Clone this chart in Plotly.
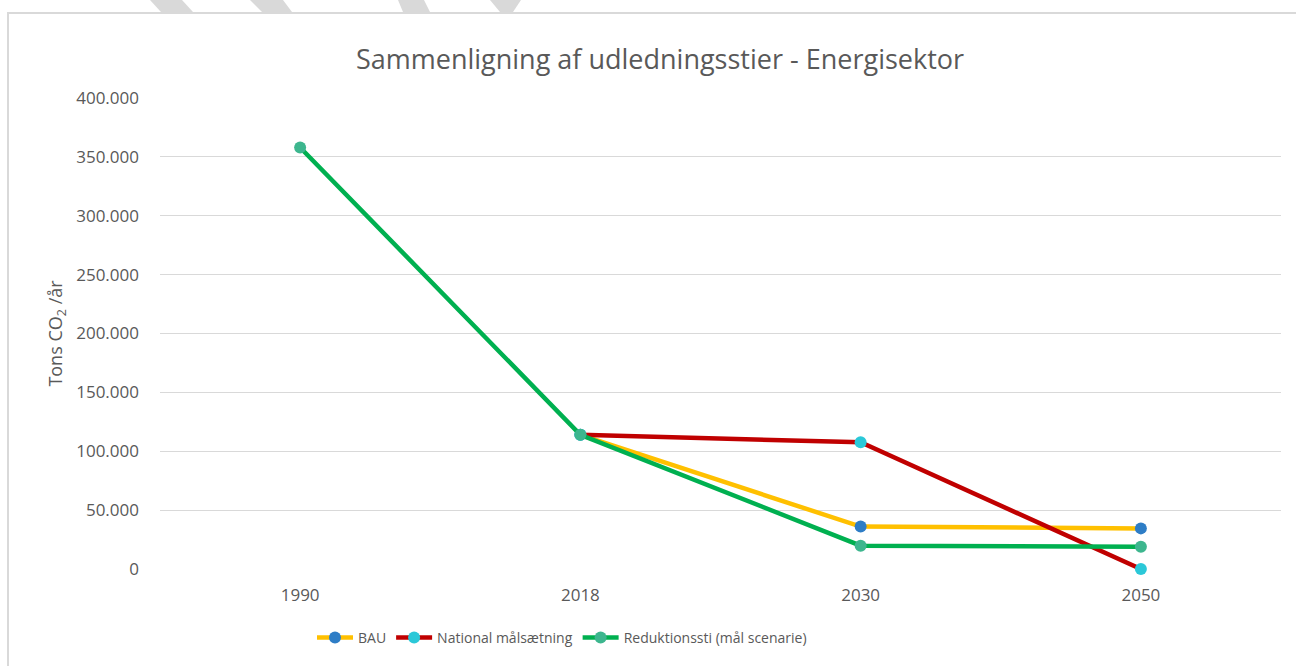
import plotly.graph_objects as go

years = ["1990", "2018", "2030", "2050"]
bau = [None, 114000, 36000, 34500]
national = [None, 114000, 107600, 0]
reduktion = [358000, 114000, 19800, 18900]
y_ticks = [0, 50000, 100000, 150000, 200000, 250000, 300000, 350000, 400000]
y_tick_labels = ["0", "50.000", "100.000", "150.000", "200.000", "250.000", "300.000", "350.000", "400.000"]

W, H = 1296, 666
L, R, T, B = 160, 1281, 98, 569  # plot area in px


def px(x):
    return (x - L) / (R - L)


def py(y):
    return (B - y) / (B - T)


FONT = "Open Sans"
GREY = "#595959"

fig = go.Figure()
fig.add_trace(go.Scatter(
    x=years, y=bau, name="BAU", mode="lines+markers", cliponaxis=False,
    line=dict(color="#FFC000", width=4.5),
    marker=dict(color="#2E7DC6", size=12),
))
fig.add_trace(go.Scatter(
    x=years, y=national, name="National målsætning", mode="lines+markers", cliponaxis=False,
    line=dict(color="#C00000", width=4.5),
    marker=dict(color="#2BC8D8", size=12),
))
fig.add_trace(go.Scatter(
    x=years, y=reduktion, name="Reduktionssti (mål scenarie)", mode="lines+markers", cliponaxis=False,
    line=dict(color="#00B050", width=4.5),
    marker=dict(color="#3DB68E", size=12),
))

shapes = []
# chart border
shapes.append(dict(type="rect", xref="paper", yref="paper",
                   x0=px(8), x1=px(1310), y0=py(700), y1=py(13),
                   line=dict(color="#D9D9D9", width=2), fillcolor="rgba(0,0,0,0)", layer="below"))
# grey diagonal stripes at top
stripes = [
    [(150, 0), (182, 0), (193, 12), (161, 12)],
    [(250, 0), (283, 0), (292, 12), (262, 12)],
    [(398, 0), (424, 0), (430, 12), (403, 12)],
    [(490, 0), (521, 0), (513, 12), (500, 12)],
]
for s in stripes:
    path = "M " + " L ".join(f"{px(a):.5f},{py(b):.5f}" for a, b in s) + " Z"
    shapes.append(dict(type="path", xref="paper", yref="paper", path=path,
                       fillcolor="#D9D9D9", line=dict(width=0)))

fig.update_layout(
    width=W, height=H,
    margin=dict(l=L, r=W - R, t=T, b=H - B),
    paper_bgcolor="white", plot_bgcolor="white",
    font=dict(family=FONT, color=GREY, size=15),
    title=dict(text="Sammenligning af udledningsstier - Energisektor",
               x=660 / W, xanchor="center", y=1 - 60 / H, yanchor="middle",
               font=dict(family=FONT, size=27, color=GREY)),
    showlegend=True,
    legend=dict(orientation="h", x=px(562), xanchor="center", y=py(638), yanchor="middle",
                font=dict(family=FONT, size=14, color=GREY), itemwidth=36,
                traceorder="normal"),
    shapes=shapes,
    xaxis=dict(type="category", range=[-0.5, 3.5], showgrid=False, showline=False,
               zeroline=False, ticks="", tickfont=dict(size=17, color=GREY),
               ticklabelstandoff=14, fixedrange=True),
    yaxis=dict(range=[0, 400000], tickvals=y_ticks, ticktext=y_tick_labels,
               showgrid=True, gridcolor="#D9D9D9", gridwidth=1, zeroline=False,
               showline=False, ticks="", tickfont=dict(size=17, color=GREY),
               ticklabelstandoff=20,
               title=dict(text="Tons CO<sub>2</sub> /år", standoff=8,
                          font=dict(size=18, color=GREY))),
)

fig.write_html("out.html", config={"displayModeBar": False},
               post_script="document.body.style.margin='0px';")
